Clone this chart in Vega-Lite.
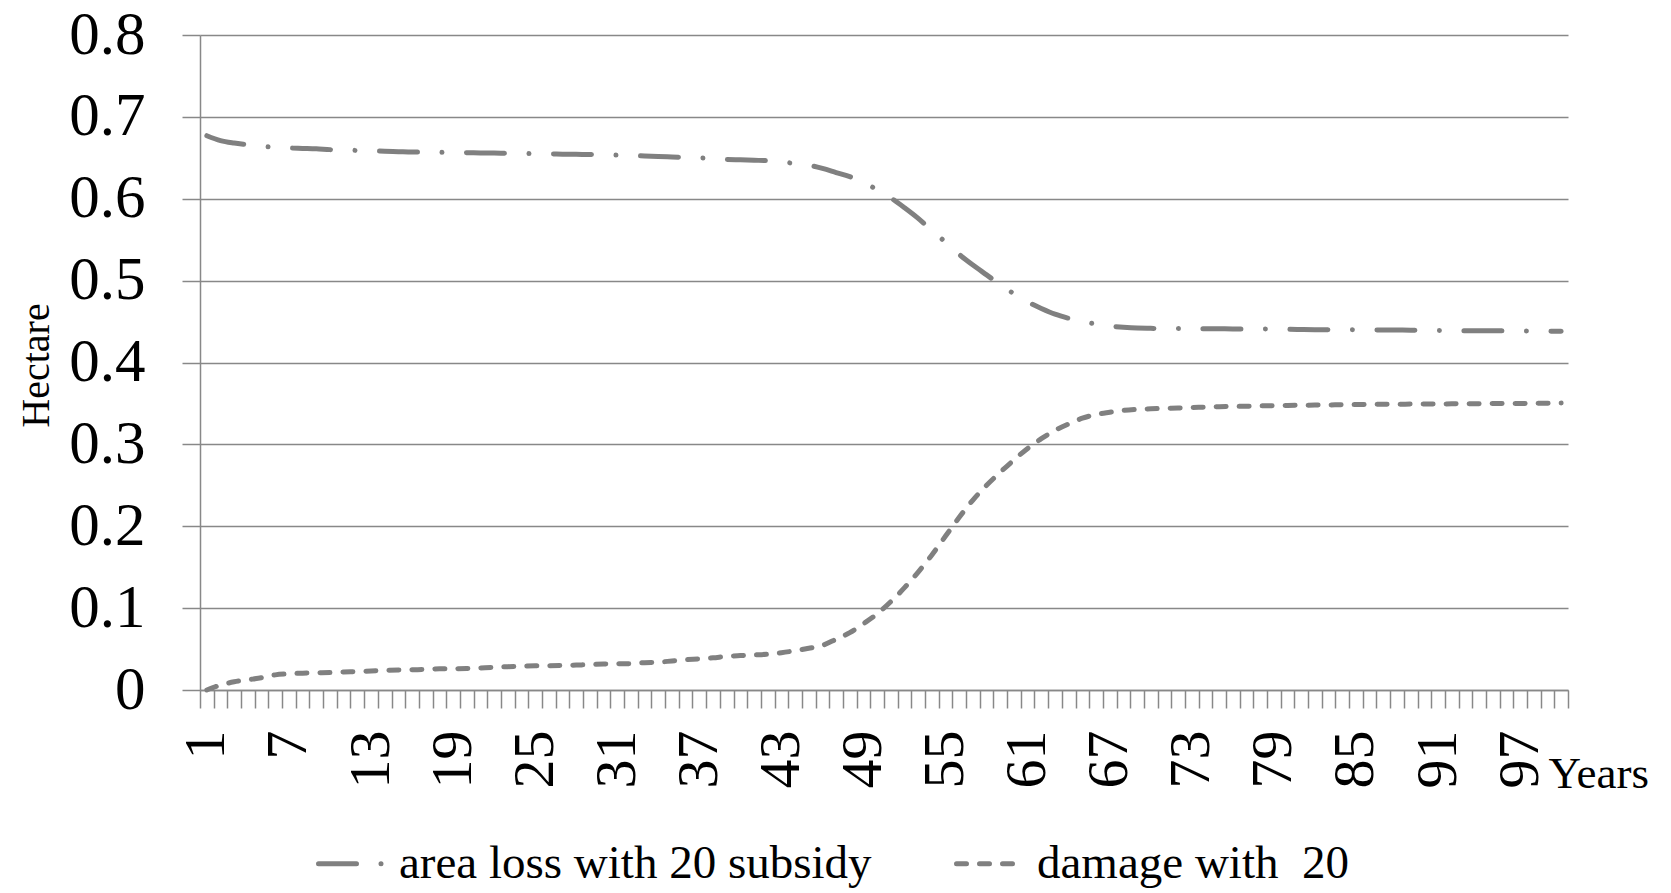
{
  "$schema": "https://vega.github.io/schema/vega-lite/v6.json",
  "width": 1368,
  "height": 655,
  "autosize": {"type": "none"},
  "padding": {"left": 200, "top": 35, "right": 103, "bottom": 203},
  "background": "white",
  "config": {
    "view": {"stroke": null},
    "font": "Liberation Serif"
  },
  "data": {
    "values": [
      {"year":1,"area":0.677,"damage":0},
      {"year":2,"area":0.671,"damage":0.006},
      {"year":3,"area":0.668,"damage":0.010},
      {"year":4,"area":0.666,"damage":0.0125},
      {"year":5,"area":0.664,"damage":0.015},
      {"year":6,"area":0.663,"damage":0.0185},
      {"year":7,"area":0.662,"damage":0.0198},
      {"year":8,"area":0.6615,"damage":0.0206},
      {"year":9,"area":0.661,"damage":0.021},
      {"year":10,"area":0.660,"damage":0.0213},
      {"year":11,"area":0.6595,"damage":0.022},
      {"year":12,"area":0.659,"damage":0.0225},
      {"year":13,"area":0.6585,"damage":0.0232},
      {"year":14,"area":0.658,"damage":0.024},
      {"year":15,"area":0.6575,"damage":0.0245},
      {"year":16,"area":0.657,"damage":0.0248},
      {"year":17,"area":0.657,"damage":0.025},
      {"year":18,"area":0.6567,"damage":0.026},
      {"year":19,"area":0.6565,"damage":0.026},
      {"year":20,"area":0.6563,"damage":0.0263},
      {"year":21,"area":0.656,"damage":0.027},
      {"year":22,"area":0.6558,"damage":0.0277},
      {"year":23,"area":0.6555,"damage":0.0285},
      {"year":24,"area":0.6553,"damage":0.029},
      {"year":25,"area":0.655,"damage":0.0297},
      {"year":26,"area":0.6547,"damage":0.0297},
      {"year":27,"area":0.6545,"damage":0.030},
      {"year":28,"area":0.6542,"damage":0.0305},
      {"year":29,"area":0.654,"damage":0.031},
      {"year":30,"area":0.6536,"damage":0.0318},
      {"year":31,"area":0.6533,"damage":0.032},
      {"year":32,"area":0.653,"damage":0.0322},
      {"year":33,"area":0.6522,"damage":0.0334},
      {"year":34,"area":0.6515,"damage":0.034},
      {"year":35,"area":0.651,"damage":0.0355},
      {"year":36,"area":0.6505,"damage":0.037},
      {"year":37,"area":0.650,"damage":0.038},
      {"year":38,"area":0.649,"damage":0.0393},
      {"year":39,"area":0.648,"damage":0.041},
      {"year":40,"area":0.6475,"damage":0.042},
      {"year":41,"area":0.647,"damage":0.0428},
      {"year":42,"area":0.6465,"damage":0.0437},
      {"year":43,"area":0.645,"damage":0.0455},
      {"year":44,"area":0.643,"damage":0.048},
      {"year":45,"area":0.641,"damage":0.051},
      {"year":46,"area":0.637,"damage":0.0545},
      {"year":47,"area":0.632,"damage":0.062},
      {"year":48,"area":0.627,"damage":0.070},
      {"year":49,"area":0.620,"damage":0.081},
      {"year":50,"area":0.611,"damage":0.093},
      {"year":51,"area":0.601,"damage":0.108},
      {"year":52,"area":0.589,"damage":0.125},
      {"year":53,"area":0.576,"damage":0.144},
      {"year":54,"area":0.561,"damage":0.165},
      {"year":55,"area":0.547,"damage":0.188},
      {"year":56,"area":0.532,"damage":0.211},
      {"year":57,"area":0.519,"damage":0.232},
      {"year":58,"area":0.507,"damage":0.250},
      {"year":59,"area":0.495,"damage":0.266},
      {"year":60,"area":0.484,"damage":0.281},
      {"year":61,"area":0.474,"damage":0.295},
      {"year":62,"area":0.466,"damage":0.307},
      {"year":63,"area":0.459,"damage":0.317},
      {"year":64,"area":0.454,"damage":0.3250},
      {"year":65,"area":0.450,"damage":0.3320},
      {"year":66,"area":0.447,"damage":0.3365},
      {"year":67,"area":0.4445,"damage":0.3392},
      {"year":68,"area":0.443,"damage":0.3415},
      {"year":69,"area":0.442,"damage":0.3428},
      {"year":70,"area":0.4417,"damage":0.3435},
      {"year":71,"area":0.4415,"damage":0.344},
      {"year":72,"area":0.4415,"damage":0.3445},
      {"year":73,"area":0.4413,"damage":0.345},
      {"year":74,"area":0.4413,"damage":0.3455},
      {"year":75,"area":0.4412,"damage":0.346},
      {"year":76,"area":0.441,"damage":0.3463},
      {"year":77,"area":0.441,"damage":0.3466},
      {"year":78,"area":0.4409,"damage":0.347},
      {"year":79,"area":0.4407,"damage":0.3473},
      {"year":80,"area":0.4405,"damage":0.3476},
      {"year":81,"area":0.4403,"damage":0.3478},
      {"year":82,"area":0.4401,"damage":0.348},
      {"year":83,"area":0.440,"damage":0.3482},
      {"year":84,"area":0.440,"damage":0.3484},
      {"year":85,"area":0.4399,"damage":0.3486},
      {"year":86,"area":0.4398,"damage":0.3488},
      {"year":87,"area":0.4397,"damage":0.349},
      {"year":88,"area":0.4396,"damage":0.3491},
      {"year":89,"area":0.4395,"damage":0.3492},
      {"year":90,"area":0.4392,"damage":0.3493},
      {"year":91,"area":0.439,"damage":0.3494},
      {"year":92,"area":0.4389,"damage":0.3495},
      {"year":93,"area":0.4389,"damage":0.3496},
      {"year":94,"area":0.4388,"damage":0.3497},
      {"year":95,"area":0.4387,"damage":0.3498},
      {"year":96,"area":0.4386,"damage":0.3499},
      {"year":97,"area":0.4385,"damage":0.350},
      {"year":98,"area":0.4384,"damage":0.3502},
      {"year":99,"area":0.4382,"damage":0.3503},
      {"year":100,"area":0.4381,"damage":0.3505}
    ]
  },
  "transform": [
    {"fold": ["area", "damage"], "as": ["key", "value"]},
    {"lookup": "key", "from": {"data": {"values": [
      {"key": "area", "series": "area loss with 20 subsidy"},
      {"key": "damage", "series": "damage with\u00a0 20"}
    ]}, "key": "key", "fields": ["series"]}}
  ],
  "mark": {
    "type": "line",
    "color": "#808080",
    "strokeWidth": 5,
    "strokeCap": "round",
    "interpolate": "monotone"
  },
  "encoding": {
    "x": {
      "field": "year",
      "type": "ordinal",
      "sort": "ascending",
      "scale": {"type": "band", "paddingInner": 0, "paddingOuter": 0},
      "axis": {
        "title": "Years",
        "titleFont": "Liberation Serif",
        "titleFontSize": 45,
        "titleFontWeight": "normal",
        "titleColor": "black",
        "titleAngle": 0,
        "titleAlign": "left",
        "titleBaseline": "alphabetic",
        "titleX": 1348,
        "titleY": 97,
        "tickBand": "extent",
        "tickSize": 18,
        "tickColor": "#888888",
        "tickWidth": 1.5,
        "domainColor": "#888888",
        "domainWidth": 1.5,
        "grid": false,
        "labelAngle": -90,
        "labelAlign": "right",
        "labelBaseline": "middle",
        "labelFont": "Liberation Serif",
        "labelFontSize": 58,
        "labelColor": "black",
        "labelPadding": 22,
        "labelOverlap": false,
        "labelExpr": "(datum.value - 1) % 6 == 0 ? datum.label : ''"
      }
    },
    "y": {
      "field": "value",
      "type": "quantitative",
      "scale": {"domain": [0, 0.8], "nice": false, "zero": true},
      "axis": {
        "title": "Hectare",
        "titleFont": "Liberation Serif",
        "titleFontSize": 40,
        "titleFontWeight": "normal",
        "titleColor": "black",
        "titleAngle": -90,
        "titleAlign": "center",
        "titleBaseline": "alphabetic",
        "titleX": -152,
        "titleY": 330,
        "values": [0, 0.1, 0.2, 0.3, 0.4, 0.5, 0.6, 0.7, 0.8],
        "format": ".1~f",
        "tickSize": 18,
        "tickColor": "#888888",
        "tickWidth": 1.5,
        "domainColor": "#888888",
        "domainWidth": 1.5,
        "grid": true,
        "gridColor": "#888888",
        "gridWidth": 1.5,
        "labelFont": "Liberation Serif",
        "labelFontSize": 61,
        "labelColor": "black",
        "labelPadding": 37,
        "labelBaseline": "middle"
      }
    },
    "strokeDash": {
      "field": "series",
      "type": "nominal",
      "scale": {
        "domain": ["area loss with 20 subsidy", "damage with\u00a0 20"],
        "range": [[38, 24.5, 0.01, 24.5], [10, 13]]
      },
      "legend": {
        "title": null,
        "orient": "none",
        "direction": "horizontal",
        "legendX": 116,
        "legendY": 792,
        "symbolType": "stroke",
        "symbolSize": 4624,
        "symbolStrokeWidth": 5,
        "symbolStrokeColor": "#808080",
        "labelFont": "Liberation Serif",
        "labelFontSize": 47,
        "labelColor": "black",
        "labelOffset": 10,
        "labelLimit": 0,
        "columnPadding": 74,
        "encode": {"symbols": {"update": {"strokeCap": {"value": "round"}}}}
      }
    }
  }
}
